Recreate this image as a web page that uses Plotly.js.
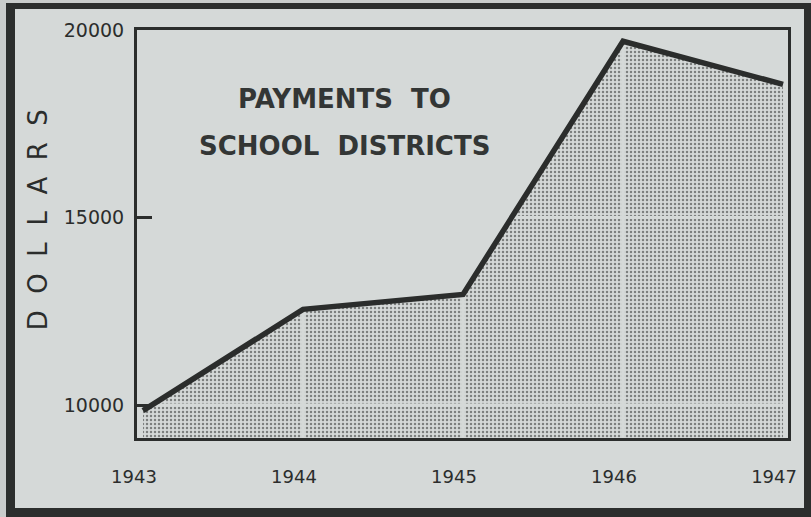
<!DOCTYPE html>
<html>
<head>
<meta charset="utf-8">
<script src="https://cdn.plot.ly/plotly-3.0.1.min.js"></script>
<style>
  html, body { margin: 0; padding: 0; width: 811px; height: 517px; overflow: hidden; background: #c9cccb; }
  #frame { position: absolute; left: 6px; top: 3px; width: 805px; height: 514px; background: #2c2e2d; }
  #chart { position: absolute; left: 15px; top: 9px; width: 789px; height: 499px; }
</style>
</head>
<body>
<div id="frame"></div>
<div id="chart"></div>
<script>
// ---- data ----
const years = [1943, 1944, 1945, 1946, 1947];
const payments = [9850, 12550, 12950, 19700, 18550];
const yTickVals = [10000, 15000, 20000];
const yTickText = ["10000", "15000", "20000"];
const xTickText = ["1943", "1944", "1945", "1946", "1947"];
const titleLines = ["PAYMENTS\u00a0\u00a0TO", "SCHOOL\u00a0\u00a0DISTRICTS"];
const yTitle = "DOLLARS";

// ---- styling ----
const bg = "rgb(213,217,216)";
const ink = "#2b2d2c";
const xRange = [1942.9625, 1947.031];
const yRange = [9120, 20000];

const traces = [];
// stippled area
traces.push({
  x: years, y: payments, type: "scatter", mode: "none",
  fill: "tozeroy",
  fillcolor: "rgba(0,0,0,0)",
  fillpattern: { shape: ".", size: 4, solidity: 0.3, fgcolor: "#7c7f7e", bgcolor: "rgba(0,0,0,0)" },
  hoverinfo: "skip", showlegend: false
});
// gaps in the stipple at the grid positions (drawn in background colour)
years.slice(1, -1).forEach(function (yr) {
  traces.push({ x: [yr, yr], y: yRange, type: "scatter", mode: "lines",
    line: { color: bg, width: 3 }, hoverinfo: "skip", showlegend: false });
});
yTickVals.slice(0, -1).forEach(function (v) {
  traces.push({ x: xRange, y: [v, v], type: "scatter", mode: "lines",
    line: { color: bg, width: 3 }, hoverinfo: "skip", showlegend: false });
});
// the heavy line
traces.push({
  x: years, y: payments, type: "scatter", mode: "lines",
  line: { color: ink, width: 5.5 },
  showlegend: false, name: "Payments"
});

const layout = {
  width: 789, height: 499,
  margin: { l: 122, r: 16, t: 21, b: 70 },
  paper_bgcolor: bg, plot_bgcolor: bg,
  showlegend: false,
  font: { family: "DejaVu Sans, sans-serif", color: ink },
  xaxis: {
    range: xRange, tickvals: years, ticktext: xTickText,
    showgrid: false, zeroline: false,
    showline: true, linecolor: ink, linewidth: 3, mirror: true,
    ticks: "outside", ticklen: 0, ticklabelstandoff: 20, ticklabelshift: -9,
    tickfont: { family: "DejaVu Sans, sans-serif", size: 18, color: ink }
  },
  yaxis: {
    range: yRange, tickvals: yTickVals, ticktext: yTickText,
    showgrid: false, zeroline: false,
    showline: true, linecolor: ink, linewidth: 3, mirror: true,
    ticks: "inside", ticklen: 15, tickwidth: 3, tickcolor: ink,
    ticklabelstandoff: 6,
    tickfont: { family: "DejaVu Sans, sans-serif", size: 19, color: ink }
  },
  annotations: [
    { text: titleLines[0], xref: "paper", yref: "paper", x: 0.318, y: 0.831,
      xanchor: "center", yanchor: "middle", showarrow: false,
      font: { family: "DejaVu Sans, sans-serif", size: 26, color: "#333635", weight: "bold" } },
    { text: titleLines[1], xref: "paper", yref: "paper", x: 0.318, y: 0.716,
      xanchor: "center", yanchor: "middle", showarrow: false,
      font: { family: "DejaVu Sans, sans-serif", size: 26, color: "#333635", weight: "bold" } },
    { text: yTitle.split("").join("\u00a0\u00a0"), xref: "paper", yref: "paper",
      x: -0.152, y: 0.534, xanchor: "center", yanchor: "middle", textangle: -90,
      showarrow: false,
      font: { family: "DejaVu Sans, sans-serif", size: 26, color: ink } }
  ]
};

Plotly.newPlot("chart", traces, layout, { staticPlot: true, displayModeBar: false });
</script>
</body>
</html>
